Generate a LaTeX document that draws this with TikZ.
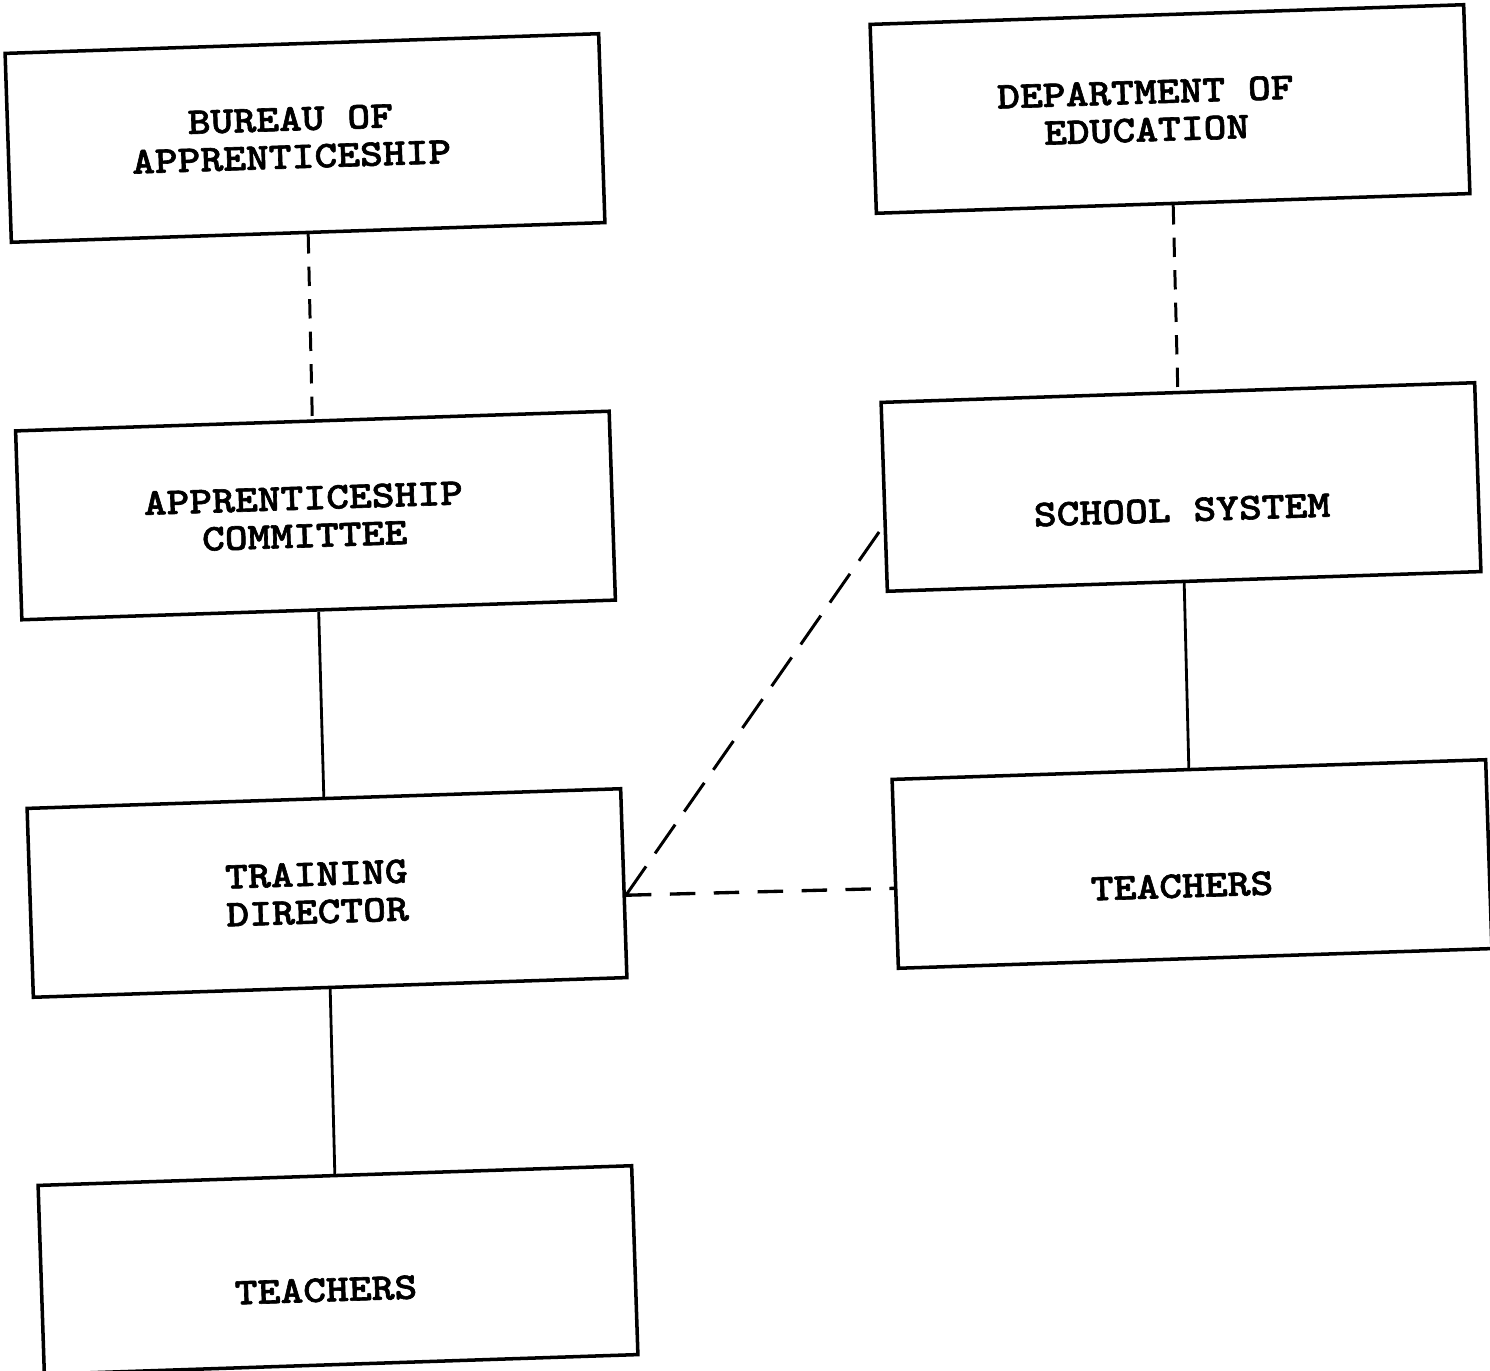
\documentclass[tikz,border=0pt]{standalone}
\usepackage{fontspec}
\newfontfamily\typewriter{lmmonolt10-bold}[Extension=.otf, FakeStretch=1.15, FakeBold=1.6]
\usetikzlibrary{calc}
\begin{document}
\begin{tikzpicture}[x=0.02cm,y=-0.02cm,
  orgbox/.style={draw, line width=2pt, rectangle, rotate=1.9,
    minimum width=11.88cm, minimum height=3.78cm, inner sep=0pt},
  boxtext/.style={align=center, rotate=1.9, inner sep=0pt,
    font=\typewriter\fontsize{21.5}{21.5}\selectfont},
  solidlink/.style={line width=1.6pt},
  vdash/.style={line width=1.7pt, dash pattern=on 11pt off 7.5pt},
  hdash/.style={line width=1.9pt, dash pattern=on 14.5pt off 10.5pt},
  ddash/.style={line width=1.7pt, dash pattern=on 20pt off 9pt}]

\useasboundingbox (0,0) rectangle (1490,1371);
\fill[white] (0,0) rectangle (1490,1371);

% left column
\node[orgbox] (bureau)    at (305,138)  {};
\node[orgbox] (committee) at (315.5,515.5) {};
\node[orgbox] (director)  at (327,893)  {};
\node[orgbox] (teachL)    at (338,1270) {};

% right column
\node[orgbox] (dept)      at (1170,109) {};
\node[orgbox] (school)    at (1181,487) {};
\node[orgbox] (teachR)    at (1192,864) {};

% labels
\node[boxtext] (tbureau)    at (291,138)  {BUREAU OF\\APPRENTICESHIP};
\node[boxtext] (tcommittee) at (304,517)  {APPRENTICESHIP\\COMMITTEE};
\node[boxtext] (tdirector)  at (317,893)  {TRAINING\\DIRECTOR};
\node[boxtext] (tteachL)    at (326,1290) {TEACHERS};
\node[boxtext] (tdept)      at (1146,111) {DEPARTMENT OF\\EDUCATION};
\node[boxtext] (tschool)    at (1182,510) {SCHOOL SYSTEM};
\node[boxtext] (tteachR)    at (1182,886) {TEACHERS};

% vertical links
\draw[vdash]     (bureau.south)    -- (committee.north);
\draw[solidlink] (committee.south) -- (director.north);
\draw[solidlink] (director.south)  -- (teachL.north);
\draw[vdash]     (dept.south)      -- (school.north);
\draw[solidlink] (school.south)    -- (teachR.north);

% cross links from the training director
\coordinate (dirR)    at ($(director.north east)!0.563!(director.south east)$);
\coordinate (schoolL) at ($(school.north west)!0.65!(school.south west)$);
\coordinate (teachRL) at ($(teachR.north west)!0.575!(teachR.south west)$);
\draw[ddash] (dirR) -- (schoolL);
\draw[hdash] (dirR) -- (teachRL);
\end{tikzpicture}
\end{document}
